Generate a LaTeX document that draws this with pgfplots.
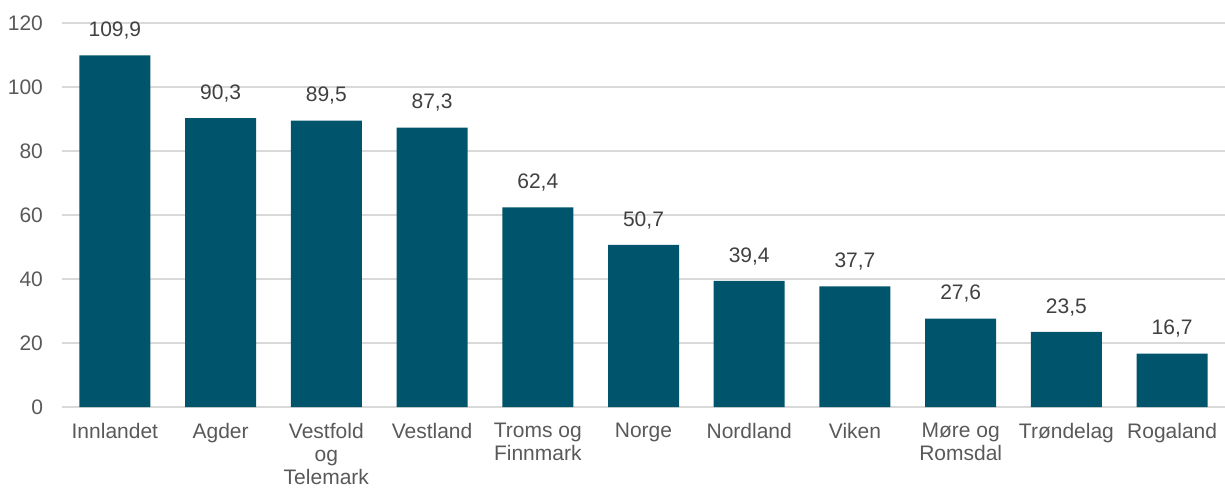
\documentclass[border=0pt]{standalone}
\usepackage{pgfplots}
\pgfplotsset{compat=1.18}
\usepackage{fontspec}
\setmainfont{Liberation Sans}
\definecolor{barc}{HTML}{00546C}
\definecolor{axc}{HTML}{595959}
\definecolor{valc}{HTML}{404040}
\definecolor{gridc}{HTML}{D9D9D9}
\begin{document}
\begin{tikzpicture}
\useasboundingbox (-31pt,-40.5pt) rectangle (581.5pt,203.5pt);
\begin{axis}[
  at={(0pt,0pt)}, anchor=south west,
  scale only axis, width=581.5pt, height=192pt,
  xmin=-0.5, xmax=10.5, ymin=0, ymax=120,
  ytick={0,20,...,120},
  xtick={0,...,10},
  xticklabels={Innlandet,Agder,Vestfold\\og\\Telemark,Vestland,Troms og\\Finnmark,Norge,Nordland,Viken,Møre og\\Romsdal,Trøndelag,Rogaland},
  axis line style={draw=none},
  major tick length=0pt,
  ymajorgrids, grid style={gridc, line width=0.75pt},
  tick label style={font=\fontsize{10.5}{11.5}\selectfont, text=axc},
  xticklabel style={align=center, anchor=north, yshift=-4.5pt},
  yticklabel style={xshift=-6pt},
  /pgf/number format/assume math mode=true,
  clip=false,
  nodes near coords,
  nodes near coords style={font=\fontsize{10.5}{12}\selectfont, text=valc, yshift=4.5pt,
    /pgf/number format/.cd, fixed, fixed zerofill, precision=1, use comma, assume math mode=true},
]
\addplot[ybar, bar width=35.5pt, fill=barc, draw=none] coordinates {
(0,109.9) (1,90.3) (2,89.5) (3,87.3) (4,62.4) (5,50.7) (6,39.4) (7,37.7) (8,27.6) (9,23.5) (10,16.7)
};
\end{axis}
\end{tikzpicture}
\end{document}
